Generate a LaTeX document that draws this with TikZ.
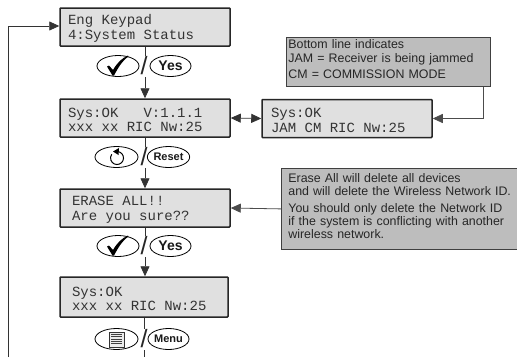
\documentclass[tikz,border=0pt]{standalone}
\usepackage{fontspec}
\setmainfont{Liberation Sans}
\newfontfamily\lcdfont{Liberation Mono}
\newcommand\gp{\hspace*{8.4pt}}
\usetikzlibrary{arrows.meta,shapes.geometric}
\tikzset{
  x=1pt,y=-1pt,
  lcd/.style={draw=black!85,line width=1.5pt,fill=black!12,rounded corners=0.8pt,minimum height=38pt,text width=#1,align=left,inner xsep=8pt,inner ysep=0pt,font=\lcdfont\fontsize{14}{14.6}\selectfont,text=black!80,anchor=center,execute at begin node=\rule{0pt}{13pt}},
  note/.style={draw=black!75,line width=0.8pt,fill=black!26,align=left,anchor=north west,inner sep=0pt,text=black!85,font=\fontsize{12.4}{13.3}\selectfont},
  btn/.style={draw=black,line width=0.8pt,fill=white,ellipse,minimum width=#1,minimum height=21pt,inner sep=0pt},
  word/.style={btn=41pt,font=\bfseries\fontsize{14}{14}\selectfont,text=black!90},
  smallword/.style={btn=41pt,font=\bfseries\fontsize{11}{11}\selectfont,text=black!90},
  bar/.style={fill=white,inner sep=0pt,minimum width=9pt,minimum height=21pt,font=\fontsize{25}{25}\selectfont,text=black!85},
  flow/.style={draw=black!80,line width=0.8pt,-{Triangle[length=10pt,width=9pt]}},
  plainflow/.style={draw=black!80,line width=0.8pt},
  leader/.style={draw=black!70,line width=0.8pt,-{Triangle[length=10pt,width=9pt]}},
}
\begin{document}
\begin{tikzpicture}
\useasboundingbox (0,0) rectangle (517,357);
\fill[white] (0,0) rectangle (517,357);

% screens
\node[lcd=154pt] (box1) at (145,27) {Eng\gp Keypad\\4:System\gp Status};
\node[lcd=154pt] (box2) at (145,118) {Sys:OK\gp\gp\gp V:1.1.1\\xxx\gp xx\gp RIC\gp Nw:25};
\node[lcd=146pt,inner xsep=12pt] (box3) at (145,208) {ERASE\gp ALL!!\\Are\gp you\gp sure??};
\node[lcd=144pt,inner xsep=12pt,minimum height=40pt] (box4) at (144,297) {Sys:OK\\xxx\gp xx\gp RIC\gp Nw:25};
\node[lcd=152pt,inner xsep=9pt] (box5) at (347,118.5) {Sys:OK\\JAM\gp CM\gp RIC\gp Nw:25};

% notes
\node[note,minimum width=204pt,minimum height=49pt,text width=200pt,inner xsep=2pt,inner ysep=0pt] (note1) at (286,37)
  {Bottom line indicates\\[0.5pt]JAM = Receiver is being jammed\\[3pt]CM = COMMISSION MODE\rule[-5pt]{0pt}{5pt}};
\node[note,minimum width=236pt,minimum height=81pt,text width=228pt,inner xsep=7pt,inner ysep=1pt] (note2) at (281,168)
  {Erase All will delete all devices\\and will delete the Wireless Network ID.\\[3.5pt]You should only delete the Network ID\\if the system is conflicting with another\\wireless network.\rule[-6pt]{0pt}{6pt}};

% connectors
\coordinate (loopstart) at (8,357);
\coordinate (menuend) at (144,357);
\draw[flow] (box1.south) -- (box2.north);
\draw[flow] (box2.south) -- (box3.north);
\draw[flow] (box3.south) -- (box3.south |- box4.north);
\draw[plainflow] (box4.south) -- (menuend);
\draw[flow] (loopstart) |- ([yshift=1pt]box1.west);
\draw[draw=black!80,line width=0.8pt,{Triangle[length=10pt,width=9pt]}-{Triangle[length=10pt,width=9pt]}] (box2.east) -- (box5.west);
\draw[leader] ([xshift=-7pt]note1.south east) |- (box5.east);
\draw[leader] (note2.west) -- (box3.east);

% buttons, first step
\node[bar] (s1) at (144,66) {/};
\node[btn=42pt] (ok1) at (118,66) {};
\node[word] (yes1) at (170.5,66) {Yes};
\fill[black] (107,66.5) -- (109,65.5) -- (113,70) .. controls (117,63) and (122,58) .. (128,55.5) -- (128.5,56.5) .. controls (122,61) and (118,68) .. (114,75.5) -- (112.5,75.5) -- cycle;

% buttons, second step
\node[bar] (s2) at (144,157) {/};
\node[btn=43pt] (back) at (116.5,157) {};
\node[smallword] (reset) at (168.5,157) {Reset};
\draw[line width=1pt,black] (114.8,151.9) arc[start angle=110,end angle=-215,radius=6.5pt];
\fill[black] (113,151.5) -- (119,148) -- (118.5,155) -- cycle;

% buttons, third step
\node[bar] (s3) at (144,246) {/};
\node[btn=42pt] (ok2) at (118,246) {};
\node[word] (yes2) at (170.5,246) {Yes};
\fill[black] (107,246.5) -- (109,245.5) -- (113,250) .. controls (117,243) and (122,238) .. (128,235.5) -- (128.5,236.5) .. controls (122,241) and (118,248) .. (114,255.5) -- (112.5,255.5) -- cycle;

% buttons, fourth step
\node[bar] (s4) at (144,339) {/};
\node[btn=43pt] (menukey) at (116.5,339) {};
\node[smallword] (menuword) at (168.5,339) {Menu};
\draw[line width=0.6pt,black!80,fill=black!8] (109,332) rectangle (124,347);
\foreach \yy in {334.5,336.8,339.1,341.4,343.7}
  \draw[line width=0.7pt,black!75] (111,\yy) -- (122,\yy);
\end{tikzpicture}
\end{document}
